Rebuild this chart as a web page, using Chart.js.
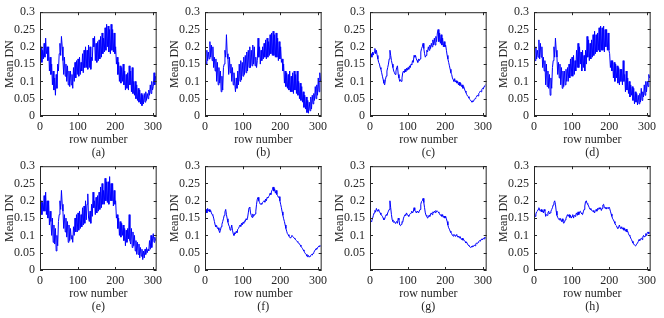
<!DOCTYPE html>
<html>
<head>
<meta charset="utf-8">
<script src="https://cdn.jsdelivr.net/npm/chart.js@4.4.1/dist/chart.umd.min.js"></script>
<style>
  body { margin: 0; background: #fff; width: 664px; height: 318px; position: relative; overflow: hidden; }
  canvas { position: absolute; }
</style>
</head>
<body>
<canvas id="pa" width="166" height="161" style="left:0px;top:0px"></canvas>
<canvas id="pb" width="166" height="161" style="left:165px;top:0px"></canvas>
<canvas id="pc" width="166" height="161" style="left:330px;top:0px"></canvas>
<canvas id="pd" width="166" height="161" style="left:494px;top:0px"></canvas>
<canvas id="pe" width="166" height="161" style="left:0px;top:154px"></canvas>
<canvas id="pf" width="166" height="161" style="left:165px;top:154px"></canvas>
<canvas id="pg" width="166" height="161" style="left:330px;top:154px"></canvas>
<canvas id="ph" width="166" height="161" style="left:494px;top:154px"></canvas>
<script>
// row numbers (every other row), one line per block of 10 rows
const rows = [
  1, 3, 5, 7, 9,      11, 13, 15, 17, 19,
  21, 23, 25, 27, 29, 31, 33, 35, 37, 39,
  41, 43, 45, 47, 49, 51, 53, 55, 57, 59,
  61, 63, 65, 67, 69, 71, 73, 75, 77, 79,
  81, 83, 85, 87, 89, 91, 93, 95, 97, 99,
  101, 103, 105, 107, 109, 111, 113, 115, 117, 119,
  121, 123, 125, 127, 129, 131, 133, 135, 137, 139,
  141, 143, 145, 147, 149, 151, 153, 155, 157, 159,
  161, 163, 165, 167, 169, 171, 173, 175, 177, 179,
  181, 183, 185, 187, 189, 191, 193, 195, 197, 199,
  201, 203, 205, 207, 209, 211, 213, 215, 217, 219,
  221, 223, 225, 227, 229, 231, 233, 235, 237, 239,
  241, 243, 245, 247, 249, 251, 253, 255, 257, 259,
  261, 263, 265, 267, 269, 271, 273, 275, 277, 279,
  281, 283, 285, 287, 289, 291, 293, 295, 297, 299,
  301, 303, 305, 307
];

const meanA = [
  0.17, 0.2, 0.155, 0.19, 0.165,     0.21, 0.17, 0.225, 0.18, 0.2,
  0.16, 0.2, 0.13, 0.17, 0.12,       0.15, 0.09, 0.13, 0.075, 0.11,
  0.06, 0.12, 0.08, 0.15, 0.13,      0.18, 0.21, 0.175, 0.23, 0.2,
  0.16, 0.12, 0.17, 0.115, 0.15,     0.1, 0.145, 0.09, 0.13, 0.085,
  0.13, 0.09, 0.12, 0.08, 0.14,      0.1, 0.155, 0.11, 0.16, 0.12,
  0.165, 0.115, 0.17, 0.12, 0.155,   0.13, 0.18, 0.125, 0.19, 0.14,
  0.2, 0.14, 0.19, 0.135, 0.205,     0.14, 0.2, 0.135, 0.17, 0.16,
  0.225, 0.2, 0.23, 0.16, 0.21,      0.155, 0.215, 0.16, 0.22, 0.165,
  0.23, 0.17, 0.24, 0.18, 0.225,     0.185, 0.255, 0.19, 0.265, 0.2,
  0.26, 0.185, 0.25, 0.18, 0.265,    0.19, 0.25, 0.185, 0.24, 0.18,
  0.2, 0.15, 0.17, 0.12, 0.155,      0.1, 0.145, 0.095, 0.14, 0.1,
  0.15, 0.09, 0.13, 0.075, 0.12,     0.08, 0.125, 0.075, 0.145, 0.09,
  0.13, 0.07, 0.14, 0.065, 0.1,      0.06, 0.1, 0.05, 0.09, 0.045,
  0.08, 0.04, 0.075, 0.035, 0.065,   0.03, 0.06, 0.035, 0.065, 0.04,
  0.07, 0.045, 0.065, 0.05, 0.075,   0.06, 0.09, 0.065, 0.1, 0.075,
  0.085, 0.125, 0.09, 0.115
];

const meanB = [
  0.17, 0.15, 0.19, 0.16, 0.185,     0.165, 0.215, 0.17, 0.205, 0.16,
  0.2, 0.14, 0.17, 0.13, 0.165,      0.1, 0.155, 0.09, 0.14, 0.095,
  0.13, 0.07, 0.115, 0.075, 0.14,    0.15, 0.19, 0.17, 0.235, 0.18,
  0.165, 0.12, 0.17, 0.125, 0.15,    0.1, 0.14, 0.09, 0.125, 0.095,
  0.07, 0.11, 0.08, 0.13, 0.09,      0.15, 0.1, 0.16, 0.105, 0.155,
  0.115, 0.17, 0.12, 0.175, 0.125,   0.185, 0.13, 0.19, 0.14, 0.2,
  0.14, 0.19, 0.145, 0.205, 0.15,    0.2, 0.145, 0.17, 0.14, 0.16,
  0.225, 0.17, 0.2, 0.15, 0.19,      0.16, 0.2, 0.165, 0.21, 0.17,
  0.22, 0.165, 0.225, 0.17, 0.215,   0.175, 0.235, 0.18, 0.24, 0.175,
  0.245, 0.175, 0.235, 0.17, 0.24,   0.17, 0.225, 0.16, 0.215, 0.165,
  0.2, 0.155, 0.165, 0.13, 0.15,     0.095, 0.13, 0.085, 0.125, 0.08,
  0.12, 0.075, 0.13, 0.07, 0.115,    0.07, 0.125, 0.065, 0.13, 0.075,
  0.12, 0.065, 0.13, 0.06, 0.1,      0.05, 0.095, 0.045, 0.085, 0.04,
  0.07, 0.025, 0.06, 0.02, 0.055,    0.01, 0.045, 0.008, 0.04, 0.015,
  0.055, 0.02, 0.06, 0.035, 0.065,   0.045, 0.085, 0.05, 0.09, 0.06,
  0.11, 0.07, 0.125, 0.1
];

const meanC = [
  0.172, 0.18, 0.17, 0.185, 0.176,   0.185, 0.195, 0.18, 0.19, 0.175,
  0.165, 0.155, 0.15, 0.14, 0.135,   0.125, 0.115, 0.105, 0.095, 0.09,
  0.105, 0.115, 0.13, 0.14, 0.15,    0.165, 0.19, 0.175, 0.16, 0.15,
  0.14, 0.13, 0.125, 0.12, 0.13,     0.14, 0.145, 0.12, 0.11, 0.1,
  0.105, 0.1, 0.11, 0.125, 0.13,     0.125, 0.135, 0.128, 0.138, 0.132,
  0.14, 0.135, 0.145, 0.14, 0.15,    0.148, 0.16, 0.155, 0.175, 0.17,
  0.175, 0.165, 0.16, 0.155, 0.165,  0.16, 0.165, 0.185, 0.195, 0.2,
  0.21, 0.195, 0.18, 0.17, 0.175,    0.19, 0.185, 0.2, 0.19, 0.205,
  0.195, 0.21, 0.2, 0.22, 0.205,     0.225, 0.205, 0.23, 0.215, 0.24,
  0.25, 0.215, 0.24, 0.21, 0.235,    0.205, 0.225, 0.2, 0.215, 0.2,
  0.205, 0.19, 0.175, 0.165, 0.155,  0.145, 0.135, 0.125, 0.12, 0.11,
  0.105, 0.1, 0.108, 0.098, 0.102,   0.095, 0.1, 0.09, 0.098, 0.088,
  0.095, 0.085, 0.09, 0.08, 0.085,   0.078, 0.072, 0.068, 0.062, 0.058,
  0.056, 0.052, 0.048, 0.046, 0.043, 0.04, 0.044, 0.042, 0.048, 0.05,
  0.053, 0.055, 0.06, 0.058, 0.065,  0.068, 0.072, 0.07, 0.076, 0.08,
  0.078, 0.085, 0.088, 0.09
];

const meanD = [
  0.18, 0.16, 0.2, 0.165, 0.19,      0.17, 0.22, 0.165, 0.21, 0.17,
  0.2, 0.14, 0.17, 0.13, 0.16,       0.09, 0.15, 0.085, 0.13, 0.08,
  0.12, 0.06, 0.11, 0.08, 0.14,      0.16, 0.2, 0.17, 0.225, 0.19,
  0.17, 0.12, 0.155, 0.11, 0.15,     0.09, 0.14, 0.08, 0.13, 0.085,
  0.13, 0.09, 0.135, 0.1, 0.14,      0.1, 0.15, 0.11, 0.165, 0.115,
  0.17, 0.115, 0.175, 0.12, 0.16,    0.13, 0.19, 0.14, 0.21, 0.14,
  0.2, 0.15, 0.185, 0.13, 0.19,      0.14, 0.175, 0.13, 0.19, 0.15,
  0.23, 0.17, 0.22, 0.16, 0.21,      0.165, 0.22, 0.17, 0.235, 0.175,
  0.245, 0.18, 0.235, 0.185, 0.24,   0.19, 0.255, 0.185, 0.26, 0.19,
  0.255, 0.19, 0.26, 0.185, 0.25,    0.2, 0.25, 0.19, 0.24, 0.19,
  0.18, 0.14, 0.16, 0.13, 0.16,      0.11, 0.155, 0.1, 0.15, 0.11,
  0.145, 0.095, 0.14, 0.09, 0.135,   0.1, 0.135, 0.09, 0.16, 0.1,
  0.12, 0.07, 0.13, 0.075, 0.11,     0.065, 0.1, 0.055, 0.09, 0.06,
  0.085, 0.045, 0.08, 0.035, 0.07,   0.04, 0.065, 0.032, 0.06, 0.035,
  0.065, 0.04, 0.08, 0.045, 0.07,    0.055, 0.09, 0.06, 0.1, 0.07,
  0.1, 0.085, 0.12, 0.11
];

const meanE = [
  0.18, 0.2, 0.16, 0.195, 0.17,      0.215, 0.17, 0.225, 0.16, 0.2,
  0.15, 0.2, 0.13, 0.17, 0.14,       0.1, 0.15, 0.08, 0.13, 0.075,
  0.12, 0.055, 0.1, 0.07, 0.14,      0.16, 0.2, 0.175, 0.23, 0.19,
  0.17, 0.12, 0.16, 0.11, 0.15,      0.095, 0.14, 0.08, 0.13, 0.085,
  0.12, 0.09, 0.1, 0.08, 0.125,      0.1, 0.15, 0.11, 0.16, 0.11,
  0.165, 0.115, 0.17, 0.12, 0.16,    0.125, 0.18, 0.13, 0.185, 0.135,
  0.2, 0.145, 0.19, 0.22, 0.15,      0.14, 0.17, 0.135, 0.19, 0.155,
  0.225, 0.18, 0.2, 0.16, 0.21,      0.165, 0.215, 0.17, 0.225, 0.175,
  0.24, 0.18, 0.25, 0.19, 0.23,      0.19, 0.265, 0.2, 0.255, 0.195,
  0.255, 0.19, 0.27, 0.2, 0.25,      0.2, 0.25, 0.185, 0.23, 0.19,
  0.2, 0.15, 0.16, 0.12, 0.15,       0.1, 0.14, 0.095, 0.135, 0.1,
  0.13, 0.085, 0.12, 0.07, 0.115,    0.08, 0.12, 0.09, 0.16, 0.085,
  0.075, 0.12, 0.065, 0.11, 0.07,    0.1, 0.055, 0.085, 0.045, 0.08,
  0.045, 0.075, 0.035, 0.065, 0.04,  0.06, 0.03, 0.055, 0.035, 0.06,
  0.045, 0.065, 0.05, 0.06, 0.055,   0.085, 0.06, 0.1, 0.065, 0.09,
  0.105, 0.08, 0.095, 0.085
];

const meanF = [
  0.168, 0.175, 0.165, 0.178, 0.17,  0.175, 0.168, 0.172, 0.165, 0.16,
  0.158, 0.15, 0.14, 0.13, 0.125,    0.128, 0.12, 0.122, 0.115, 0.108,
  0.115, 0.125, 0.132, 0.14, 0.148,  0.158, 0.168, 0.175, 0.16, 0.148,
  0.138, 0.13, 0.125, 0.115, 0.12,   0.13, 0.115, 0.105, 0.1, 0.108,
  0.105, 0.112, 0.108, 0.118, 0.12,  0.125, 0.13, 0.126, 0.135, 0.13,
  0.138, 0.135, 0.142, 0.14, 0.148,  0.145, 0.15, 0.165, 0.18, 0.182,
  0.165, 0.158, 0.152, 0.162, 0.155, 0.158, 0.162, 0.17, 0.19, 0.205,
  0.21, 0.2, 0.195, 0.19, 0.192,     0.19, 0.195, 0.198, 0.2, 0.196,
  0.205, 0.2, 0.21, 0.208, 0.212,    0.215, 0.222, 0.218, 0.228, 0.232,
  0.24, 0.228, 0.235, 0.222, 0.23,   0.218, 0.215, 0.21, 0.212, 0.2,
  0.19, 0.18, 0.168, 0.158, 0.148,   0.14, 0.13, 0.12, 0.112, 0.105,
  0.102, 0.098, 0.095, 0.092, 0.096, 0.1, 0.097, 0.095, 0.092, 0.09,
  0.087, 0.085, 0.082, 0.08, 0.078,  0.075, 0.072, 0.068, 0.065, 0.062,
  0.058, 0.055, 0.05, 0.047, 0.045,  0.04, 0.038, 0.042, 0.037, 0.04,
  0.042, 0.045, 0.043, 0.048, 0.05,  0.055, 0.058, 0.062, 0.06, 0.065,
  0.066, 0.07, 0.068, 0.07
];

const meanG = [
  0.145, 0.14, 0.143, 0.15, 0.158,   0.165, 0.172, 0.168, 0.178, 0.172,
  0.17, 0.175, 0.168, 0.165, 0.16,   0.158, 0.155, 0.15, 0.145, 0.148,
  0.155, 0.16, 0.158, 0.165, 0.17,   0.175, 0.2, 0.18, 0.16, 0.145,
  0.14, 0.138, 0.14, 0.135, 0.138,   0.14, 0.135, 0.15, 0.145, 0.13,
  0.128, 0.132, 0.14, 0.138, 0.15,   0.155, 0.16, 0.158, 0.165, 0.16,
  0.158, 0.155, 0.16, 0.163, 0.165,  0.17, 0.165, 0.168, 0.18, 0.172,
  0.17, 0.165, 0.17, 0.168, 0.165,   0.17, 0.175, 0.19, 0.198, 0.2,
  0.207, 0.195, 0.18, 0.165, 0.158,  0.155, 0.15, 0.152, 0.158, 0.155,
  0.162, 0.165, 0.16, 0.168, 0.165,  0.17, 0.166, 0.172, 0.168, 0.17,
  0.168, 0.165, 0.162, 0.158, 0.16,  0.155, 0.16, 0.152, 0.156, 0.15,
  0.155, 0.148, 0.14, 0.13, 0.122,   0.118, 0.112, 0.108, 0.105, 0.1,
  0.098, 0.103, 0.1, 0.097, 0.102,   0.1, 0.095, 0.098, 0.093, 0.097,
  0.092, 0.088, 0.092, 0.086, 0.088, 0.085, 0.082, 0.078, 0.08, 0.075,
  0.072, 0.07, 0.067, 0.065, 0.068,  0.066, 0.07, 0.068, 0.072, 0.07,
  0.075, 0.078, 0.076, 0.08, 0.082,  0.085, 0.083, 0.088, 0.09, 0.087,
  0.092, 0.09, 0.095, 0.092
];

const meanH = [
  0.16, 0.155, 0.162, 0.168, 0.17,   0.175, 0.18, 0.172, 0.17, 0.175,
  0.168, 0.172, 0.165, 0.175, 0.17,  0.155, 0.16, 0.158, 0.165, 0.17,
  0.162, 0.165, 0.17, 0.175, 0.18,   0.188, 0.195, 0.2, 0.19, 0.17,
  0.158, 0.152, 0.148, 0.145, 0.15,  0.145, 0.14, 0.148, 0.14, 0.135,
  0.138, 0.145, 0.15, 0.155, 0.16,   0.155, 0.16, 0.152, 0.158, 0.15,
  0.155, 0.16, 0.15, 0.158, 0.155,   0.16, 0.165, 0.158, 0.168, 0.16,
  0.168, 0.17, 0.165, 0.162, 0.16,   0.168, 0.175, 0.185, 0.198, 0.2,
  0.192, 0.19, 0.185, 0.18, 0.175,   0.178, 0.172, 0.17, 0.172, 0.168,
  0.165, 0.172, 0.175, 0.17, 0.178,  0.175, 0.18, 0.176, 0.18, 0.172,
  0.178, 0.188, 0.19, 0.18, 0.178,   0.182, 0.176, 0.18, 0.178, 0.182,
  0.178, 0.17, 0.162, 0.155, 0.148,  0.145, 0.14, 0.135, 0.13, 0.128,
  0.122, 0.12, 0.125, 0.13, 0.122,   0.12, 0.125, 0.118, 0.122, 0.115,
  0.12, 0.112, 0.118, 0.11, 0.112,   0.105, 0.1, 0.098, 0.092, 0.088,
  0.083, 0.078, 0.075, 0.072, 0.07,  0.072, 0.075, 0.078, 0.082, 0.088,
  0.085, 0.09, 0.092, 0.088, 0.095,  0.1, 0.095, 0.098, 0.105, 0.1,
  0.108, 0.11, 0.105, 0.108
];

const xTicks = [0, 100, 200, 300];
const yTicks = [0, 0.05, 0.1, 0.15, 0.2, 0.25, 0.3];

const axisColor = '#262626';
Chart.defaults.font.family = "'Liberation Serif', 'Times New Roman', serif";
Chart.defaults.font.size = 12;
Chart.defaults.color = axisColor;

// MATLAB style box with inward ticks on all four sides
const boxTicks = {
    id: 'boxTicks',
    afterDraw(chart) {
        const ctx = chart.ctx;
        const a = chart.chartArea;
        const xs = chart.scales.x;
        const ys = chart.scales.y;
        const len = 3;
        ctx.save();
        ctx.strokeStyle = axisColor;
        ctx.lineWidth = 1;
        ctx.strokeRect(a.left + 0.5, a.top + 0.5, a.right - a.left - 1, a.bottom - a.top - 1);
        ctx.beginPath();
        xTicks.forEach(v => {
            const px = Math.round(xs.getPixelForValue(v)) + 0.5;
            ctx.moveTo(px, a.bottom); ctx.lineTo(px, a.bottom - len);
            ctx.moveTo(px, a.top); ctx.lineTo(px, a.top + len);
        });
        yTicks.forEach(v => {
            const py = Math.round(ys.getPixelForValue(v)) + 0.5;
            ctx.moveTo(a.left, py); ctx.lineTo(a.left + len, py);
            ctx.moveTo(a.right, py); ctx.lineTo(a.right - len, py);
        });
        ctx.stroke();
        ctx.restore();
    }
};

function makePanel(id, values, label, hideZero) {
    const points = rows.map((r, i) => ({ x: r, y: values[i] }));
    return new Chart(document.getElementById(id), {
        type: 'line',
        data: {
            datasets: [{
                data: points,
                borderColor: '#0000ff',
                borderWidth: 1,
                pointRadius: 0,
                tension: 0,
                fill: false
            }]
        },
        options: {
            responsive: false,
            animation: false,
            layout: { padding: { top: 7, right: 3, left: 0, bottom: 0 } },
            plugins: { legend: { display: false }, tooltip: { enabled: false } },
            scales: {
                x: {
                    type: 'linear',
                    min: 0,
                    max: 310,
                    afterBuildTicks: s => { s.ticks = xTicks.map(v => ({ value: v })); },
                    afterFit: s => { s.height = 45; },
                    grid: { display: false, drawTicks: false },
                    border: { display: false },
                    ticks: { padding: 4, maxRotation: 0, autoSkip: false },
                    title: {
                        display: true,
                        text: ['row number', label],
                        font: { size: 12, lineHeight: 13 / 12 },
                        padding: { top: 0, bottom: 1.5 }
                    }
                },
                y: {
                    min: 0,
                    max: 0.3,
                    afterBuildTicks: s => { s.ticks = yTicks.map(v => ({ value: v })); },
                    afterFit: s => { s.width = 40; },
                    grid: { display: false, drawTicks: false },
                    border: { display: false },
                    ticks: {
                        padding: 5,
                        autoSkip: false,
                        callback: v => (hideZero && v === 0) ? '' : String(Number(v.toFixed(2)))
                    },
                    title: {
                        display: true,
                        text: 'Mean DN',
                        font: { size: 12 },
                        padding: { top: 3, bottom: 0 }
                    }
                }
            }
        },
        plugins: [boxTicks]
    });
}

makePanel('pa', meanA, '(a)', false);
makePanel('pb', meanB, '(b)', false);
makePanel('pc', meanC, '(c)', false);
makePanel('pd', meanD, '(d)', false);
makePanel('pe', meanE, '(e)', false);
makePanel('pf', meanF, '(f)', false);
makePanel('pg', meanG, '(g)', true);
makePanel('ph', meanH, '(h)', false);
</script>
</body>
</html>
